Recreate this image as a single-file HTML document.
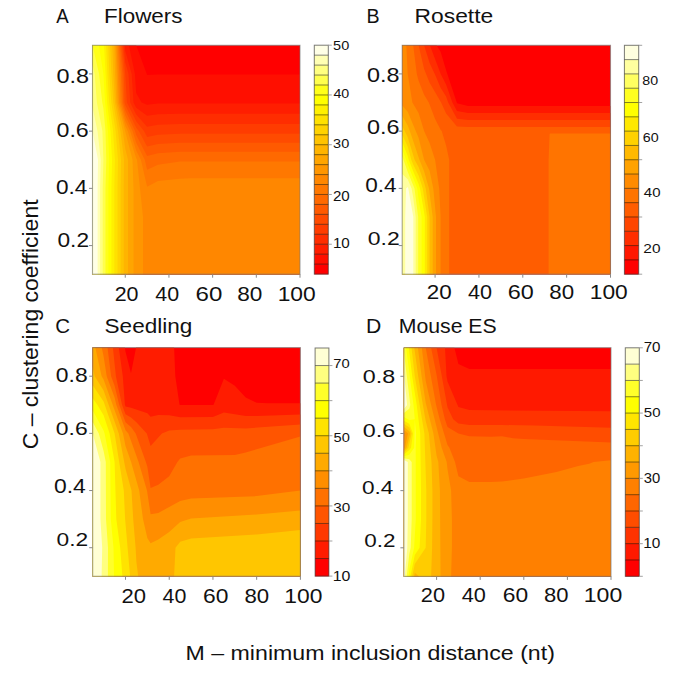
<!DOCTYPE html>
<html><head><meta charset="utf-8"><style>html,body{margin:0;padding:0;background:#fff;width:685px;height:676px;overflow:hidden;font-family:"Liberation Sans",sans-serif}svg text{font-family:"Liberation Sans",sans-serif;font-size:100px}</style></head><body>
<svg width="685" height="676" viewBox="0 0 685 676" style="position:absolute;left:0;top:0" font-family="Liberation Sans" font-size="100">
<rect x="92.5" y="45.3" width="207.50" height="228.90" fill="#ff0000"/>
<path fill="#ff0f00" d="M92.5,274.2 300.0,274.2 300.0,74.5 158.0,74.5 147.1,74.9 136.2,45.3 92.5,45.3 92.5,274.2Z"/>
<path fill="#ff1e00" d="M92.5,274.2 300.0,274.2 300.0,103.5 158.0,103.6 147.1,104.7 141.6,102.5 136.2,93.0 134.9,73.9 128.9,45.3 92.5,45.3 92.5,274.2Z"/>
<path fill="#ff2d00" d="M92.5,274.2 300.0,274.2 300.0,113.8 179.9,113.8 158.0,114.2 147.1,115.7 136.2,107.8 133.5,102.5 131.7,73.9 125.3,51.0 124.7,45.3 92.5,45.3 92.5,274.2Z"/>
<path fill="#ff3c00" d="M92.5,274.2 300.0,274.2 300.0,124.0 179.9,124.0 158.0,124.8 147.1,126.7 136.2,114.5 130.2,102.5 128.5,73.9 125.3,62.5 123.5,45.3 92.5,45.3 92.5,274.2Z"/>
<path fill="#ff4b00" d="M92.5,274.2 300.0,274.2 300.0,133.8 179.9,133.8 158.0,134.8 147.1,136.9 144.0,131.1 136.2,121.2 126.9,102.5 125.3,73.9 122.4,45.3 92.5,45.3 92.5,274.2Z"/>
<path fill="#ff5a00" d="M92.5,274.2 300.0,274.2 300.0,142.8 179.9,142.8 158.0,144.1 147.1,146.4 138.8,131.1 136.2,127.8 125.3,105.1 124.6,102.5 123.8,73.9 121.2,45.3 92.5,45.3 92.5,274.2Z"/>
<path fill="#ff6900" d="M92.5,274.2 300.0,274.2 300.0,151.7 179.9,151.7 158.0,153.3 147.1,155.9 136.2,135.0 135.0,131.1 125.3,110.3 123.2,102.5 122.4,73.9 120.1,45.3 92.5,45.3 92.5,274.2Z"/>
<path fill="#ff7800" d="M92.5,274.2 300.0,274.2 300.0,161.4 179.9,161.5 158.0,164.7 147.1,169.8 144.8,159.8 136.2,142.7 132.5,131.1 125.3,115.5 121.9,102.5 120.9,73.9 118.9,45.3 92.5,45.3 92.5,274.2Z"/>
<path fill="#ff8700" d="M92.5,274.2 300.0,274.2 300.0,178.3 190.8,178.3 179.9,178.8 158.0,181.0 147.1,186.7 140.9,159.8 136.2,150.5 130.1,131.1 125.3,120.7 120.5,102.5 119.4,73.9 117.8,45.3 92.5,45.3 92.5,274.2Z"/>
<path fill="#ff9600" d="M92.5,274.2 143.0,274.2 143.0,217.0 137.0,159.8 136.2,158.2 127.7,131.1 125.3,125.9 119.1,102.5 116.6,45.3 92.5,45.3 92.5,274.2Z"/>
<path fill="#ffa500" d="M92.5,274.2 133.5,274.2 133.5,188.4 132.5,159.8 117.8,102.5 115.5,45.3 92.5,45.3 92.5,274.2Z"/>
<path fill="#ffb400" d="M92.5,274.2 128.0,274.2 128.0,159.8 125.3,149.0 122.8,131.1 116.4,102.5 115.1,73.9 114.3,45.3 92.5,45.3 92.5,274.2Z"/>
<path fill="#ffc300" d="M92.5,274.2 123.7,274.2 123.7,188.4 124.0,159.8 120.4,131.1 115.0,102.5 113.3,73.9 112.3,45.3 92.5,45.3 92.5,274.2Z"/>
<path fill="#ffd200" d="M92.5,274.2 120.6,274.2 120.6,188.4 121.0,159.8 118.0,131.1 113.3,102.5 111.4,73.9 110.2,45.3 92.5,45.3 92.5,274.2Z"/>
<path fill="#ffe100" d="M92.5,274.2 117.5,274.2 117.5,188.4 118.0,159.8 115.6,131.1 111.3,102.5 109.4,73.9 108.2,45.3 92.5,45.3 92.5,274.2Z"/>
<path fill="#fff000" d="M92.5,274.2 114.3,274.2 114.3,188.4 114.9,159.8 113.1,131.1 109.2,102.5 107.4,73.9 106.1,45.3 92.5,45.3 92.5,274.2Z"/>
<path fill="#ffff00" d="M92.5,274.2 111.4,274.2 111.4,188.4 112.0,159.8 110.5,131.1 107.1,102.5 104.0,45.3 92.5,45.3 92.5,274.2Z"/>
<path fill="#ffff19" d="M92.5,274.2 108.4,274.2 108.4,188.4 109.2,159.8 108.0,131.1 105.1,102.5 103.4,73.9 98.9,45.3 92.5,45.3 92.5,274.2Z"/>
<path fill="#ffff4d" d="M92.5,274.2 105.5,274.2 105.5,188.4 106.3,159.8 105.5,131.1 103.4,108.2 102.3,102.5 99.1,73.9 92.5,45.3 92.5,274.2Z"/>
<path fill="#ffff80" d="M92.5,274.2 102.7,274.2 102.7,188.4 103.4,159.8 102.4,131.1 96.9,102.5 94.7,73.9 92.5,64.4 92.5,274.2Z"/>
<path fill="#ffffb3" d="M92.5,274.2 100.1,274.2 100.1,188.4 100.7,159.8 97.5,131.1 92.5,107.3 92.5,274.2Z"/>
<path fill="#ffffe6" d="M92.5,274.2 97.6,274.2 97.6,188.4 98.0,159.8 92.5,131.1 92.5,274.2Z"/>
<rect x="92.5" y="45.3" width="207.50" height="228.90" fill="none" stroke="#777" stroke-opacity="0.65" stroke-width="1.1"/>
<line x1="125.26" x2="125.26" y1="274.2" y2="277.7" stroke="#888" stroke-width="1"/>
<line x1="168.95" x2="168.95" y1="274.2" y2="277.7" stroke="#888" stroke-width="1"/>
<line x1="212.63" x2="212.63" y1="274.2" y2="277.7" stroke="#888" stroke-width="1"/>
<line x1="256.32" x2="256.32" y1="274.2" y2="277.7" stroke="#888" stroke-width="1"/>
<line x1="300.00" x2="300.00" y1="274.2" y2="277.7" stroke="#888" stroke-width="1"/>
<line x1="89.0" x2="92.5" y1="245.59" y2="245.59" stroke="#888" stroke-width="1"/>
<line x1="89.0" x2="92.5" y1="188.36" y2="188.36" stroke="#888" stroke-width="1"/>
<line x1="89.0" x2="92.5" y1="131.14" y2="131.14" stroke="#888" stroke-width="1"/>
<line x1="89.0" x2="92.5" y1="73.91" y2="73.91" stroke="#888" stroke-width="1"/>
<rect x="314.3" y="264.15" width="14.00" height="10.25" fill="#ff0000"/>
<rect x="314.3" y="254.20" width="14.00" height="10.25" fill="#ff0f00"/>
<rect x="314.3" y="244.24" width="14.00" height="10.25" fill="#ff1e00"/>
<rect x="314.3" y="234.29" width="14.00" height="10.25" fill="#ff2d00"/>
<rect x="314.3" y="224.34" width="14.00" height="10.25" fill="#ff3c00"/>
<rect x="314.3" y="214.39" width="14.00" height="10.25" fill="#ff4b00"/>
<rect x="314.3" y="204.43" width="14.00" height="10.25" fill="#ff5a00"/>
<rect x="314.3" y="194.48" width="14.00" height="10.25" fill="#ff6900"/>
<rect x="314.3" y="184.53" width="14.00" height="10.25" fill="#ff7800"/>
<rect x="314.3" y="174.58" width="14.00" height="10.25" fill="#ff8700"/>
<rect x="314.3" y="164.63" width="14.00" height="10.25" fill="#ff9600"/>
<rect x="314.3" y="154.67" width="14.00" height="10.25" fill="#ffa500"/>
<rect x="314.3" y="144.72" width="14.00" height="10.25" fill="#ffb400"/>
<rect x="314.3" y="134.77" width="14.00" height="10.25" fill="#ffc300"/>
<rect x="314.3" y="124.82" width="14.00" height="10.25" fill="#ffd200"/>
<rect x="314.3" y="114.87" width="14.00" height="10.25" fill="#ffe100"/>
<rect x="314.3" y="104.91" width="14.00" height="10.25" fill="#fff000"/>
<rect x="314.3" y="94.96" width="14.00" height="10.25" fill="#ffff00"/>
<rect x="314.3" y="85.01" width="14.00" height="10.25" fill="#ffff19"/>
<rect x="314.3" y="75.06" width="14.00" height="10.25" fill="#ffff4d"/>
<rect x="314.3" y="65.10" width="14.00" height="10.25" fill="#ffff80"/>
<rect x="314.3" y="55.15" width="14.00" height="10.25" fill="#ffffb3"/>
<rect x="314.3" y="45.20" width="14.00" height="10.25" fill="#ffffe6"/>
<line x1="314.3" x2="328.3" y1="264.15" y2="264.15" stroke="#000" stroke-opacity="0.55" stroke-width="0.9"/>
<line x1="314.3" x2="328.3" y1="254.20" y2="254.20" stroke="#000" stroke-opacity="0.55" stroke-width="0.9"/>
<line x1="314.3" x2="328.3" y1="244.24" y2="244.24" stroke="#000" stroke-opacity="0.55" stroke-width="0.9"/>
<line x1="314.3" x2="328.3" y1="234.29" y2="234.29" stroke="#000" stroke-opacity="0.55" stroke-width="0.9"/>
<line x1="314.3" x2="328.3" y1="224.34" y2="224.34" stroke="#000" stroke-opacity="0.55" stroke-width="0.9"/>
<line x1="314.3" x2="328.3" y1="214.39" y2="214.39" stroke="#000" stroke-opacity="0.55" stroke-width="0.9"/>
<line x1="314.3" x2="328.3" y1="204.43" y2="204.43" stroke="#000" stroke-opacity="0.55" stroke-width="0.9"/>
<line x1="314.3" x2="328.3" y1="194.48" y2="194.48" stroke="#000" stroke-opacity="0.55" stroke-width="0.9"/>
<line x1="314.3" x2="328.3" y1="184.53" y2="184.53" stroke="#000" stroke-opacity="0.55" stroke-width="0.9"/>
<line x1="314.3" x2="328.3" y1="174.58" y2="174.58" stroke="#000" stroke-opacity="0.55" stroke-width="0.9"/>
<line x1="314.3" x2="328.3" y1="164.63" y2="164.63" stroke="#000" stroke-opacity="0.55" stroke-width="0.9"/>
<line x1="314.3" x2="328.3" y1="154.67" y2="154.67" stroke="#000" stroke-opacity="0.55" stroke-width="0.9"/>
<line x1="314.3" x2="328.3" y1="144.72" y2="144.72" stroke="#000" stroke-opacity="0.55" stroke-width="0.9"/>
<line x1="314.3" x2="328.3" y1="134.77" y2="134.77" stroke="#000" stroke-opacity="0.55" stroke-width="0.9"/>
<line x1="314.3" x2="328.3" y1="124.82" y2="124.82" stroke="#000" stroke-opacity="0.55" stroke-width="0.9"/>
<line x1="314.3" x2="328.3" y1="114.87" y2="114.87" stroke="#000" stroke-opacity="0.55" stroke-width="0.9"/>
<line x1="314.3" x2="328.3" y1="104.91" y2="104.91" stroke="#000" stroke-opacity="0.55" stroke-width="0.9"/>
<line x1="314.3" x2="328.3" y1="94.96" y2="94.96" stroke="#000" stroke-opacity="0.55" stroke-width="0.9"/>
<line x1="314.3" x2="328.3" y1="85.01" y2="85.01" stroke="#000" stroke-opacity="0.55" stroke-width="0.9"/>
<line x1="314.3" x2="328.3" y1="75.06" y2="75.06" stroke="#000" stroke-opacity="0.55" stroke-width="0.9"/>
<line x1="314.3" x2="328.3" y1="65.10" y2="65.10" stroke="#000" stroke-opacity="0.55" stroke-width="0.9"/>
<line x1="314.3" x2="328.3" y1="55.15" y2="55.15" stroke="#000" stroke-opacity="0.55" stroke-width="0.9"/>
<rect x="314.3" y="45.2" width="14.00" height="228.90" fill="none" stroke="#333" stroke-opacity="0.65" stroke-width="1"/>
<line x1="328.3" x2="331.8" y1="45.20" y2="45.20" stroke="#999" stroke-width="0.9"/>
<line x1="328.3" x2="331.8" y1="94.96" y2="94.96" stroke="#999" stroke-width="0.9"/>
<line x1="328.3" x2="331.8" y1="144.72" y2="144.72" stroke="#999" stroke-width="0.9"/>
<line x1="328.3" x2="331.8" y1="194.48" y2="194.48" stroke="#999" stroke-width="0.9"/>
<line x1="328.3" x2="331.8" y1="244.24" y2="244.24" stroke="#999" stroke-width="0.9"/>
<rect x="402.2" y="45.3" width="208.30" height="228.90" fill="#ff0000"/>
<path fill="#ff1700" d="M402.2,274.2 610.5,274.2 610.5,106.0 468.0,106.0 457.0,103.3 446.1,70.3 440.6,51.8 436.5,45.3 402.2,45.3 402.2,274.2Z"/>
<path fill="#ff2e00" d="M402.2,274.2 610.5,274.2 610.5,113.0 468.0,113.0 457.0,111.0 452.4,102.5 446.1,84.6 440.7,73.9 429.9,45.3 402.2,45.3 402.2,274.2Z"/>
<path fill="#ff4600" d="M402.2,274.2 610.5,274.2 610.5,120.0 468.0,120.0 457.0,118.8 448.2,102.5 446.1,96.6 440.6,87.7 435.1,74.8 429.6,63.1 424.1,45.3 402.2,45.3 402.2,274.2Z"/>
<path fill="#ff5d00" d="M402.2,274.2 610.5,274.2 610.5,127.0 468.0,127.0 457.0,126.5 446.1,113.5 441.1,102.5 429.6,82.8 424.1,69.1 418.6,45.3 402.2,45.3 402.2,274.2Z"/>
<path fill="#ff7400" d="M402.2,274.2 449.2,274.2 449.2,159.8 446.1,145.4 441.7,131.1 440.6,129.7 435.1,118.9 428.8,102.5 424.1,94.7 418.6,80.8 416.8,73.9 413.2,45.3 402.2,45.3 402.2,274.2ZM548.6,274.2 610.5,274.2 610.5,133.4 550.2,133.4 549.6,134.0 548.6,159.8 548.6,274.2Z"/>
<path fill="#ff8b00" d="M402.2,274.2 440.6,274.2 440.6,217.0 439.2,188.4 435.1,159.8 429.6,142.9 424.1,131.1 418.6,113.0 412.4,102.5 407.7,73.9 406.3,45.3 402.2,45.3 402.2,274.2Z"/>
<path fill="#ffa200" d="M402.2,274.2 436.0,274.2 436.0,217.0 433.3,188.4 429.6,170.8 424.1,159.8 418.6,137.8 407.7,111.8 402.2,105.6 402.2,274.2Z"/>
<path fill="#ffb900" d="M402.2,274.2 432.7,274.2 432.7,217.0 429.0,188.4 424.1,171.2 419.4,159.8 410.9,134.0 407.7,125.6 402.2,115.8 402.2,274.2Z"/>
<path fill="#ffd100" d="M402.2,274.2 429.6,274.2 429.6,217.0 425.7,188.4 424.1,182.6 418.6,167.0 414.6,159.8 407.7,136.9 402.2,126.0 402.2,274.2Z"/>
<path fill="#ffe800" d="M402.2,274.2 427.2,274.2 427.2,217.0 422.8,188.4 418.6,175.6 413.2,164.5 411.3,159.8 407.7,146.4 402.2,134.7 402.2,274.2Z"/>
<path fill="#ffff00" d="M402.2,274.2 424.8,274.2 424.8,217.0 424.1,212.2 420.0,188.4 418.6,184.1 413.2,171.3 408.7,159.8 407.7,155.9 402.2,141.9 402.2,274.2Z"/>
<path fill="#ffff20" d="M402.2,274.2 421.6,274.2 421.6,217.0 418.6,199.4 417.3,188.4 407.7,164.3 402.2,149.0 402.2,274.2Z"/>
<path fill="#ffff60" d="M402.2,274.2 418.2,274.2 418.2,217.0 414.5,188.4 407.7,171.8 402.2,156.2 402.2,274.2Z"/>
<path fill="#ffff9f" d="M402.2,274.2 415.7,274.2 415.7,217.0 413.2,197.6 411.6,188.4 407.7,179.3 402.2,174.1 402.2,274.2Z"/>
<path fill="#ffffdf" d="M405.2,274.2 413.3,274.2 413.3,217.0 408.3,188.4 407.7,186.9 406.1,188.4 405.2,217.0 405.2,274.2Z"/>
<rect x="402.2" y="45.3" width="208.30" height="228.90" fill="none" stroke="#777" stroke-opacity="0.65" stroke-width="1.1"/>
<line x1="435.09" x2="435.09" y1="274.2" y2="277.7" stroke="#888" stroke-width="1"/>
<line x1="478.94" x2="478.94" y1="274.2" y2="277.7" stroke="#888" stroke-width="1"/>
<line x1="522.79" x2="522.79" y1="274.2" y2="277.7" stroke="#888" stroke-width="1"/>
<line x1="566.65" x2="566.65" y1="274.2" y2="277.7" stroke="#888" stroke-width="1"/>
<line x1="610.50" x2="610.50" y1="274.2" y2="277.7" stroke="#888" stroke-width="1"/>
<line x1="398.7" x2="402.2" y1="245.59" y2="245.59" stroke="#888" stroke-width="1"/>
<line x1="398.7" x2="402.2" y1="188.36" y2="188.36" stroke="#888" stroke-width="1"/>
<line x1="398.7" x2="402.2" y1="131.14" y2="131.14" stroke="#888" stroke-width="1"/>
<line x1="398.7" x2="402.2" y1="73.91" y2="73.91" stroke="#888" stroke-width="1"/>
<rect x="624.4" y="259.89" width="14.30" height="14.61" fill="#ff0000"/>
<rect x="624.4" y="245.59" width="14.30" height="14.61" fill="#ff1700"/>
<rect x="624.4" y="231.28" width="14.30" height="14.61" fill="#ff2e00"/>
<rect x="624.4" y="216.97" width="14.30" height="14.61" fill="#ff4600"/>
<rect x="624.4" y="202.67" width="14.30" height="14.61" fill="#ff5d00"/>
<rect x="624.4" y="188.36" width="14.30" height="14.61" fill="#ff7400"/>
<rect x="624.4" y="174.06" width="14.30" height="14.61" fill="#ff8b00"/>
<rect x="624.4" y="159.75" width="14.30" height="14.61" fill="#ffa200"/>
<rect x="624.4" y="145.44" width="14.30" height="14.61" fill="#ffb900"/>
<rect x="624.4" y="131.14" width="14.30" height="14.61" fill="#ffd100"/>
<rect x="624.4" y="116.83" width="14.30" height="14.61" fill="#ffe800"/>
<rect x="624.4" y="102.53" width="14.30" height="14.61" fill="#ffff00"/>
<rect x="624.4" y="88.22" width="14.30" height="14.61" fill="#ffff20"/>
<rect x="624.4" y="73.91" width="14.30" height="14.61" fill="#ffff60"/>
<rect x="624.4" y="59.61" width="14.30" height="14.61" fill="#ffff9f"/>
<rect x="624.4" y="45.30" width="14.30" height="14.61" fill="#ffffdf"/>
<line x1="624.4" x2="638.7" y1="259.89" y2="259.89" stroke="#000" stroke-opacity="0.55" stroke-width="0.9"/>
<line x1="624.4" x2="638.7" y1="245.59" y2="245.59" stroke="#000" stroke-opacity="0.55" stroke-width="0.9"/>
<line x1="624.4" x2="638.7" y1="231.28" y2="231.28" stroke="#000" stroke-opacity="0.55" stroke-width="0.9"/>
<line x1="624.4" x2="638.7" y1="216.97" y2="216.97" stroke="#000" stroke-opacity="0.55" stroke-width="0.9"/>
<line x1="624.4" x2="638.7" y1="202.67" y2="202.67" stroke="#000" stroke-opacity="0.55" stroke-width="0.9"/>
<line x1="624.4" x2="638.7" y1="188.36" y2="188.36" stroke="#000" stroke-opacity="0.55" stroke-width="0.9"/>
<line x1="624.4" x2="638.7" y1="174.06" y2="174.06" stroke="#000" stroke-opacity="0.55" stroke-width="0.9"/>
<line x1="624.4" x2="638.7" y1="159.75" y2="159.75" stroke="#000" stroke-opacity="0.55" stroke-width="0.9"/>
<line x1="624.4" x2="638.7" y1="145.44" y2="145.44" stroke="#000" stroke-opacity="0.55" stroke-width="0.9"/>
<line x1="624.4" x2="638.7" y1="131.14" y2="131.14" stroke="#000" stroke-opacity="0.55" stroke-width="0.9"/>
<line x1="624.4" x2="638.7" y1="116.83" y2="116.83" stroke="#000" stroke-opacity="0.55" stroke-width="0.9"/>
<line x1="624.4" x2="638.7" y1="102.53" y2="102.53" stroke="#000" stroke-opacity="0.55" stroke-width="0.9"/>
<line x1="624.4" x2="638.7" y1="88.22" y2="88.22" stroke="#000" stroke-opacity="0.55" stroke-width="0.9"/>
<line x1="624.4" x2="638.7" y1="73.91" y2="73.91" stroke="#000" stroke-opacity="0.55" stroke-width="0.9"/>
<line x1="624.4" x2="638.7" y1="59.61" y2="59.61" stroke="#000" stroke-opacity="0.55" stroke-width="0.9"/>
<rect x="624.4" y="45.3" width="14.30" height="228.90" fill="none" stroke="#333" stroke-opacity="0.65" stroke-width="1"/>
<line x1="638.7" x2="642.2" y1="45.30" y2="45.30" stroke="#999" stroke-width="0.9"/>
<line x1="638.7" x2="642.2" y1="102.50" y2="102.50" stroke="#999" stroke-width="0.9"/>
<line x1="638.7" x2="642.2" y1="159.70" y2="159.70" stroke="#999" stroke-width="0.9"/>
<line x1="638.7" x2="642.2" y1="217.00" y2="217.00" stroke="#999" stroke-width="0.9"/>
<line x1="638.7" x2="642.2" y1="274.20" y2="274.20" stroke="#999" stroke-width="0.9"/>
<rect x="92.7" y="347.6" width="207.70" height="228.70" fill="#ff0000"/>
<path fill="#ff1c00" d="M92.7,576.3 300.4,576.3 300.4,403.2 267.6,403.2 256.7,402.8 245.7,397.6 234.8,385.7 223.9,378.8 213.6,404.8 212.9,405.1 180.2,405.0 179.5,404.8 175.3,376.2 174.1,347.6 136.1,347.6 131.0,373.3 125.5,351.7 124.9,347.6 92.7,347.6 92.7,576.3Z"/>
<path fill="#ff3900" d="M92.7,576.3 300.4,576.3 300.4,414.4 256.7,416.0 245.7,416.0 223.9,412.4 212.9,417.1 180.2,417.3 169.2,415.3 158.3,415.0 150.6,416.7 147.4,413.2 131.0,407.7 125.5,406.4 124.9,404.8 122.8,376.2 118.8,347.6 92.7,347.6 92.7,576.3Z"/>
<path fill="#ff5500" d="M92.7,576.3 300.4,576.3 300.4,424.4 245.7,428.4 223.9,427.7 212.9,429.2 180.2,429.7 169.2,430.4 161.9,433.4 150.6,446.1 146.8,433.4 136.4,422.2 131.0,417.4 125.5,414.3 122.0,404.8 115.9,376.2 112.9,347.6 92.7,347.6 92.7,576.3Z"/>
<path fill="#ff7100" d="M92.7,576.3 300.4,576.3 300.4,436.5 245.7,452.4 234.8,454.9 191.1,455.5 180.2,458.4 177.4,461.9 169.2,476.2 158.3,484.8 150.6,487.9 147.4,466.9 145.9,461.9 135.7,433.4 131.0,427.1 125.5,422.2 119.2,404.8 114.6,385.7 111.1,376.2 107.5,347.6 92.7,347.6 92.7,576.3Z"/>
<path fill="#ff8e00" d="M92.7,576.3 300.4,576.3 300.4,490.5 256.7,496.1 191.1,498.5 180.2,501.1 158.3,512.9 150.6,514.2 147.0,490.5 138.6,461.9 128.4,433.4 125.5,430.2 116.3,404.8 114.6,397.6 106.7,376.2 103.6,356.2 101.7,347.6 92.7,347.6 92.7,576.3Z"/>
<path fill="#ffaa00" d="M92.7,576.3 300.4,576.3 300.4,510.5 256.7,514.5 191.1,518.5 180.2,522.1 169.2,532.1 158.3,539.5 150.6,543.2 147.4,538.2 143.0,519.1 139.2,490.5 131.1,461.9 125.5,446.1 123.0,433.4 103.6,379.5 101.6,376.2 95.3,347.6 92.7,347.6 92.7,576.3Z"/>
<path fill="#ffc600" d="M92.7,576.3 138.2,576.3 136.4,562.0 135.6,547.7 133.2,519.1 131.5,490.5 125.5,468.8 118.8,433.4 103.6,390.5 94.7,376.2 92.7,366.7 92.7,576.3ZM174.1,576.3 300.4,576.3 300.4,530.0 256.7,534.4 191.1,538.5 180.2,541.8 175.5,547.7 174.1,576.3Z"/>
<path fill="#ffe300" d="M92.7,576.3 130.1,576.3 125.1,519.1 123.8,490.5 114.6,433.4 103.6,401.5 92.7,385.3 92.7,576.3Z"/>
<path fill="#ffff00" d="M92.7,576.3 122.4,576.3 120.2,547.7 116.3,519.1 114.6,461.9 109.6,433.4 103.6,415.3 97.3,404.8 92.7,398.3 92.7,576.3Z"/>
<path fill="#ffff2a" d="M92.7,576.3 114.0,576.3 113.5,547.7 110.8,519.1 110.2,461.9 104.6,433.4 103.6,430.4 92.7,410.5 92.7,576.3Z"/>
<path fill="#ffff80" d="M92.7,576.3 107.9,576.3 108.0,547.7 106.0,519.1 105.8,461.9 103.6,451.0 98.8,433.4 92.7,421.9 92.7,576.3Z"/>
<path fill="#ffffd4" d="M92.7,576.3 101.6,576.3 102.2,547.7 100.4,519.1 100.4,462.0 92.7,433.4 92.7,576.3Z"/>
<rect x="92.7" y="347.6" width="207.70" height="228.70" fill="none" stroke="#777" stroke-opacity="0.65" stroke-width="1.1"/>
<line x1="125.49" x2="125.49" y1="576.3" y2="579.8" stroke="#888" stroke-width="1"/>
<line x1="169.22" x2="169.22" y1="576.3" y2="579.8" stroke="#888" stroke-width="1"/>
<line x1="212.95" x2="212.95" y1="576.3" y2="579.8" stroke="#888" stroke-width="1"/>
<line x1="256.67" x2="256.67" y1="576.3" y2="579.8" stroke="#888" stroke-width="1"/>
<line x1="300.40" x2="300.40" y1="576.3" y2="579.8" stroke="#888" stroke-width="1"/>
<line x1="89.2" x2="92.7" y1="547.71" y2="547.71" stroke="#888" stroke-width="1"/>
<line x1="89.2" x2="92.7" y1="490.54" y2="490.54" stroke="#888" stroke-width="1"/>
<line x1="89.2" x2="92.7" y1="433.36" y2="433.36" stroke="#888" stroke-width="1"/>
<line x1="89.2" x2="92.7" y1="376.19" y2="376.19" stroke="#888" stroke-width="1"/>
<rect x="315.1" y="558.55" width="13.80" height="17.85" fill="#ff0000"/>
<rect x="315.1" y="541.01" width="13.80" height="17.85" fill="#ff1c00"/>
<rect x="315.1" y="523.46" width="13.80" height="17.85" fill="#ff3900"/>
<rect x="315.1" y="505.92" width="13.80" height="17.85" fill="#ff5500"/>
<rect x="315.1" y="488.37" width="13.80" height="17.85" fill="#ff7100"/>
<rect x="315.1" y="470.82" width="13.80" height="17.85" fill="#ff8e00"/>
<rect x="315.1" y="453.28" width="13.80" height="17.85" fill="#ffaa00"/>
<rect x="315.1" y="435.73" width="13.80" height="17.85" fill="#ffc600"/>
<rect x="315.1" y="418.18" width="13.80" height="17.85" fill="#ffe300"/>
<rect x="315.1" y="400.64" width="13.80" height="17.85" fill="#ffff00"/>
<rect x="315.1" y="383.09" width="13.80" height="17.85" fill="#ffff2a"/>
<rect x="315.1" y="365.55" width="13.80" height="17.85" fill="#ffff80"/>
<rect x="315.1" y="348.00" width="13.80" height="17.85" fill="#ffffd4"/>
<line x1="315.1" x2="328.9" y1="558.55" y2="558.55" stroke="#000" stroke-opacity="0.55" stroke-width="0.9"/>
<line x1="315.1" x2="328.9" y1="541.01" y2="541.01" stroke="#000" stroke-opacity="0.55" stroke-width="0.9"/>
<line x1="315.1" x2="328.9" y1="523.46" y2="523.46" stroke="#000" stroke-opacity="0.55" stroke-width="0.9"/>
<line x1="315.1" x2="328.9" y1="505.92" y2="505.92" stroke="#000" stroke-opacity="0.55" stroke-width="0.9"/>
<line x1="315.1" x2="328.9" y1="488.37" y2="488.37" stroke="#000" stroke-opacity="0.55" stroke-width="0.9"/>
<line x1="315.1" x2="328.9" y1="470.82" y2="470.82" stroke="#000" stroke-opacity="0.55" stroke-width="0.9"/>
<line x1="315.1" x2="328.9" y1="453.28" y2="453.28" stroke="#000" stroke-opacity="0.55" stroke-width="0.9"/>
<line x1="315.1" x2="328.9" y1="435.73" y2="435.73" stroke="#000" stroke-opacity="0.55" stroke-width="0.9"/>
<line x1="315.1" x2="328.9" y1="418.18" y2="418.18" stroke="#000" stroke-opacity="0.55" stroke-width="0.9"/>
<line x1="315.1" x2="328.9" y1="400.64" y2="400.64" stroke="#000" stroke-opacity="0.55" stroke-width="0.9"/>
<line x1="315.1" x2="328.9" y1="383.09" y2="383.09" stroke="#000" stroke-opacity="0.55" stroke-width="0.9"/>
<line x1="315.1" x2="328.9" y1="365.55" y2="365.55" stroke="#000" stroke-opacity="0.55" stroke-width="0.9"/>
<rect x="315.1" y="348.0" width="13.80" height="228.10" fill="none" stroke="#333" stroke-opacity="0.65" stroke-width="1"/>
<line x1="328.9" x2="332.4" y1="365.55" y2="365.55" stroke="#999" stroke-width="0.9"/>
<line x1="328.9" x2="332.4" y1="400.64" y2="400.64" stroke="#999" stroke-width="0.9"/>
<line x1="328.9" x2="332.4" y1="435.73" y2="435.73" stroke="#999" stroke-width="0.9"/>
<line x1="328.9" x2="332.4" y1="470.82" y2="470.82" stroke="#999" stroke-width="0.9"/>
<line x1="328.9" x2="332.4" y1="505.92" y2="505.92" stroke="#999" stroke-width="0.9"/>
<line x1="328.9" x2="332.4" y1="541.01" y2="541.01" stroke="#999" stroke-width="0.9"/>
<line x1="328.9" x2="332.4" y1="576.10" y2="576.10" stroke="#999" stroke-width="0.9"/>
<rect x="403.9" y="347.7" width="207.10" height="228.70" fill="#ff0000"/>
<path fill="#ff1900" d="M403.9,576.4 611.0,576.4 611.0,369.1 469.3,369.1 458.4,364.0 454.4,347.7 403.9,347.7 403.9,576.4Z"/>
<path fill="#ff3300" d="M403.9,576.4 611.0,576.4 611.0,411.2 469.3,410.1 458.4,407.1 447.5,381.5 446.5,376.3 445.0,347.7 403.9,347.7 403.9,576.4Z"/>
<path fill="#ff4d00" d="M403.9,576.4 611.0,576.4 611.0,427.7 534.7,425.6 502.0,425.0 469.3,424.9 458.4,423.6 453.2,419.2 447.5,407.3 436.6,347.7 403.9,347.7 403.9,576.4Z"/>
<path fill="#ff6600" d="M403.9,576.4 611.0,576.4 611.0,442.4 523.8,439.1 512.9,438.2 502.0,436.3 491.1,436.8 469.3,436.3 458.4,433.5 447.5,427.1 444.9,419.2 441.5,404.9 436.6,374.9 431.1,347.7 403.9,347.7 403.9,576.4Z"/>
<path fill="#ff8000" d="M403.9,576.4 611.0,576.4 611.0,460.3 593.6,462.0 589.2,463.8 578.3,466.1 556.5,472.0 523.8,478.4 502.0,481.6 491.1,482.1 469.3,482.1 458.4,476.3 455.0,462.0 449.4,447.8 447.5,444.9 439.7,419.2 436.1,404.9 425.7,347.7 403.9,347.7 403.9,576.4Z"/>
<path fill="#ff9900" d="M403.9,576.4 451.1,576.4 451.9,547.8 451.9,519.2 451.1,490.6 447.5,469.2 446.7,462.0 441.7,447.8 431.1,404.9 425.7,380.7 421.8,347.7 403.9,347.7 403.9,432.9 404.6,433.5 403.9,437.5 403.9,576.4Z"/>
<path fill="#ffb200" d="M403.9,576.4 440.6,576.4 439.9,490.6 438.3,462.0 436.6,455.7 433.4,433.5 425.7,402.7 421.6,376.3 417.9,347.7 403.9,347.7 403.9,429.8 408.0,433.5 404.8,447.8 403.9,448.7 403.9,576.4Z"/>
<path fill="#ffcc00" d="M403.9,576.4 414.1,576.4 414.8,572.8 419.2,576.4 431.1,576.4 432.1,547.8 432.4,519.2 432.4,490.6 431.5,462.0 428.9,433.5 425.7,421.0 422.9,404.9 418.2,376.3 414.3,347.7 403.9,347.7 403.9,426.8 409.3,431.2 410.2,433.5 406.6,447.8 403.9,450.6 403.9,576.4Z"/>
<path fill="#ffe500" d="M403.9,576.4 412.2,576.4 414.8,563.9 425.7,547.8 426.3,519.2 426.3,490.6 424.4,433.5 414.8,376.3 411.5,347.7 403.9,347.7 403.9,423.7 409.4,427.4 411.6,433.5 408.4,447.8 403.9,452.5 403.9,576.4Z"/>
<path fill="#ffff00" d="M403.9,576.4 410.4,576.4 414.8,555.0 419.6,547.8 421.0,519.2 421.0,490.6 420.2,433.5 416.7,404.9 412.2,376.3 408.8,347.7 403.9,347.7 403.9,420.7 409.3,423.7 413.0,433.5 411.0,447.8 409.3,450.1 403.9,454.4 403.9,576.4Z"/>
<path fill="#ffff2a" d="M403.9,576.4 408.5,576.4 409.4,569.4 414.1,547.8 415.8,519.2 415.7,447.8 416.1,433.5 414.8,419.2 414.2,447.8 409.4,454.7 403.9,456.3 403.9,576.4ZM407.8,419.2 409.3,419.9 414.8,419.2 413.5,404.9 406.1,347.7 403.9,347.7 403.9,417.1 407.8,419.2Z"/>
<path fill="#ffff80" d="M403.9,576.4 406.7,576.4 409.3,554.0 410.7,547.8 411.7,519.2 411.7,462.0 409.3,459.3 403.9,458.2 403.9,576.4ZM403.9,404.9 403.9,413.0 409.3,408.8 410.3,404.9 403.9,351.8 403.9,404.9Z"/>
<path fill="#ffffd4" d="M403.9,576.4 404.8,576.4 407.3,547.8 407.8,519.2 407.8,462.0 403.9,460.1 403.9,576.4ZM403.9,404.9 403.9,409.0 407.1,404.9 403.9,372.2 403.9,404.9Z"/>
<rect x="403.9" y="347.7" width="207.10" height="228.70" fill="none" stroke="#777" stroke-opacity="0.65" stroke-width="1.1"/>
<line x1="436.60" x2="436.60" y1="576.4" y2="579.9" stroke="#888" stroke-width="1"/>
<line x1="480.20" x2="480.20" y1="576.4" y2="579.9" stroke="#888" stroke-width="1"/>
<line x1="523.80" x2="523.80" y1="576.4" y2="579.9" stroke="#888" stroke-width="1"/>
<line x1="567.40" x2="567.40" y1="576.4" y2="579.9" stroke="#888" stroke-width="1"/>
<line x1="611.00" x2="611.00" y1="576.4" y2="579.9" stroke="#888" stroke-width="1"/>
<line x1="400.4" x2="403.9" y1="547.81" y2="547.81" stroke="#888" stroke-width="1"/>
<line x1="400.4" x2="403.9" y1="490.64" y2="490.64" stroke="#888" stroke-width="1"/>
<line x1="400.4" x2="403.9" y1="433.46" y2="433.46" stroke="#888" stroke-width="1"/>
<line x1="400.4" x2="403.9" y1="376.29" y2="376.29" stroke="#888" stroke-width="1"/>
<rect x="625.3" y="559.98" width="14.00" height="16.62" fill="#ff0000"/>
<rect x="625.3" y="543.66" width="14.00" height="16.62" fill="#ff1900"/>
<rect x="625.3" y="527.34" width="14.00" height="16.62" fill="#ff3300"/>
<rect x="625.3" y="511.01" width="14.00" height="16.62" fill="#ff4d00"/>
<rect x="625.3" y="494.69" width="14.00" height="16.62" fill="#ff6600"/>
<rect x="625.3" y="478.37" width="14.00" height="16.62" fill="#ff8000"/>
<rect x="625.3" y="462.05" width="14.00" height="16.62" fill="#ff9900"/>
<rect x="625.3" y="445.73" width="14.00" height="16.62" fill="#ffb200"/>
<rect x="625.3" y="429.41" width="14.00" height="16.62" fill="#ffcc00"/>
<rect x="625.3" y="413.09" width="14.00" height="16.62" fill="#ffe500"/>
<rect x="625.3" y="396.76" width="14.00" height="16.62" fill="#ffff00"/>
<rect x="625.3" y="380.44" width="14.00" height="16.62" fill="#ffff2a"/>
<rect x="625.3" y="364.12" width="14.00" height="16.62" fill="#ffff80"/>
<rect x="625.3" y="347.80" width="14.00" height="16.62" fill="#ffffd4"/>
<line x1="625.3" x2="639.3" y1="559.98" y2="559.98" stroke="#000" stroke-opacity="0.55" stroke-width="0.9"/>
<line x1="625.3" x2="639.3" y1="543.66" y2="543.66" stroke="#000" stroke-opacity="0.55" stroke-width="0.9"/>
<line x1="625.3" x2="639.3" y1="527.34" y2="527.34" stroke="#000" stroke-opacity="0.55" stroke-width="0.9"/>
<line x1="625.3" x2="639.3" y1="511.01" y2="511.01" stroke="#000" stroke-opacity="0.55" stroke-width="0.9"/>
<line x1="625.3" x2="639.3" y1="494.69" y2="494.69" stroke="#000" stroke-opacity="0.55" stroke-width="0.9"/>
<line x1="625.3" x2="639.3" y1="478.37" y2="478.37" stroke="#000" stroke-opacity="0.55" stroke-width="0.9"/>
<line x1="625.3" x2="639.3" y1="462.05" y2="462.05" stroke="#000" stroke-opacity="0.55" stroke-width="0.9"/>
<line x1="625.3" x2="639.3" y1="445.73" y2="445.73" stroke="#000" stroke-opacity="0.55" stroke-width="0.9"/>
<line x1="625.3" x2="639.3" y1="429.41" y2="429.41" stroke="#000" stroke-opacity="0.55" stroke-width="0.9"/>
<line x1="625.3" x2="639.3" y1="413.09" y2="413.09" stroke="#000" stroke-opacity="0.55" stroke-width="0.9"/>
<line x1="625.3" x2="639.3" y1="396.76" y2="396.76" stroke="#000" stroke-opacity="0.55" stroke-width="0.9"/>
<line x1="625.3" x2="639.3" y1="380.44" y2="380.44" stroke="#000" stroke-opacity="0.55" stroke-width="0.9"/>
<line x1="625.3" x2="639.3" y1="364.12" y2="364.12" stroke="#000" stroke-opacity="0.55" stroke-width="0.9"/>
<rect x="625.3" y="347.8" width="14.00" height="228.50" fill="none" stroke="#333" stroke-opacity="0.65" stroke-width="1"/>
<line x1="639.3" x2="642.8" y1="347.80" y2="347.80" stroke="#999" stroke-width="0.9"/>
<line x1="639.3" x2="642.8" y1="380.44" y2="380.44" stroke="#999" stroke-width="0.9"/>
<line x1="639.3" x2="642.8" y1="413.09" y2="413.09" stroke="#999" stroke-width="0.9"/>
<line x1="639.3" x2="642.8" y1="445.73" y2="445.73" stroke="#999" stroke-width="0.9"/>
<line x1="639.3" x2="642.8" y1="478.37" y2="478.37" stroke="#999" stroke-width="0.9"/>
<line x1="639.3" x2="642.8" y1="511.01" y2="511.01" stroke="#999" stroke-width="0.9"/>
<line x1="639.3" x2="642.8" y1="543.66" y2="543.66" stroke="#999" stroke-width="0.9"/>
<line x1="639.3" x2="642.8" y1="576.30" y2="576.30" stroke="#999" stroke-width="0.9"/>
<text transform="matrix(0.1864 0 0 0.1971 56.30 23.00)" fill="#111">A</text>
<text transform="matrix(0.2243 0 0 0.1971 104.01 23.00)" fill="#111">Flowers</text>
<text transform="matrix(0.1963 0 0 0.1971 366.43 23.00)" fill="#111">B</text>
<text transform="matrix(0.2283 0 0 0.1971 414.57 23.00)" fill="#111">Rosette</text>
<text transform="matrix(0.2048 0 0 0.2000 55.28 333.30)" fill="#111">C</text>
<text transform="matrix(0.2257 0 0 0.2000 104.57 333.30)" fill="#111">Seedling</text>
<text transform="matrix(0.2117 0 0 0.2000 366.01 333.40)" fill="#111">D</text>
<text transform="matrix(0.2125 0 0 0.2000 398.70 333.40)" fill="#111">Mouse ES</text>
<text transform="matrix(0.2346 0 0 0.1958 56.46 83.20)" fill="#111">0.8</text>
<text transform="matrix(0.2323 0 0 0.1958 56.47 136.70)" fill="#111">0.6</text>
<text transform="matrix(0.2258 0 0 0.1972 55.90 193.90)" fill="#111">0.4</text>
<text transform="matrix(0.2269 0 0 0.1986 57.49 247.40)" fill="#111">0.2</text>
<text transform="matrix(0.2338 0 0 0.1944 366.96 81.51)" fill="#111">0.8</text>
<text transform="matrix(0.2338 0 0 0.1944 366.96 134.21)" fill="#111">0.6</text>
<text transform="matrix(0.2258 0 0 0.1944 365.20 192.11)" fill="#111">0.4</text>
<text transform="matrix(0.2300 0 0 0.1901 367.78 244.81)" fill="#111">0.2</text>
<text transform="matrix(0.2292 0 0 0.1944 55.78 382.31)" fill="#111">0.8</text>
<text transform="matrix(0.2292 0 0 0.1859 55.78 435.41)" fill="#111">0.6</text>
<text transform="matrix(0.2288 0 0 0.1944 53.98 493.31)" fill="#111">0.4</text>
<text transform="matrix(0.2277 0 0 0.1915 56.59 546.01)" fill="#111">0.2</text>
<text transform="matrix(0.2331 0 0 0.1901 362.87 383.01)" fill="#111">0.8</text>
<text transform="matrix(0.2331 0 0 0.1859 362.87 436.61)" fill="#111">0.6</text>
<text transform="matrix(0.2265 0 0 0.1915 361.89 493.91)" fill="#111">0.4</text>
<text transform="matrix(0.2246 0 0 0.1915 364.30 546.61)" fill="#111">0.2</text>
<text transform="matrix(0.2146 0 0 0.1958 114.63 300.60)" fill="#111">20</text>
<text transform="matrix(0.2142 0 0 0.1958 155.27 300.60)" fill="#111">40</text>
<text transform="matrix(0.2408 0 0 0.1958 195.50 300.60)" fill="#111">60</text>
<text transform="matrix(0.2260 0 0 0.1958 237.30 300.60)" fill="#111">80</text>
<text transform="matrix(0.2284 0 0 0.1958 277.67 300.60)" fill="#111">100</text>
<text transform="matrix(0.2243 0 0 0.1930 426.68 299.41)" fill="#111">20</text>
<text transform="matrix(0.2160 0 0 0.1930 467.97 299.41)" fill="#111">40</text>
<text transform="matrix(0.2340 0 0 0.1930 507.63 299.41)" fill="#111">60</text>
<text transform="matrix(0.2231 0 0 0.1930 549.31 299.41)" fill="#111">80</text>
<text transform="matrix(0.2277 0 0 0.1930 589.78 299.41)" fill="#111">100</text>
<text transform="matrix(0.2204 0 0 0.1944 121.50 602.71)" fill="#111">20</text>
<text transform="matrix(0.2142 0 0 0.1944 162.57 602.71)" fill="#111">40</text>
<text transform="matrix(0.2282 0 0 0.1944 202.96 602.71)" fill="#111">60</text>
<text transform="matrix(0.2221 0 0 0.1944 244.51 602.71)" fill="#111">80</text>
<text transform="matrix(0.2284 0 0 0.1944 284.37 602.71)" fill="#111">100</text>
<text transform="matrix(0.2175 0 0 0.2000 420.81 602.40)" fill="#111">20</text>
<text transform="matrix(0.2170 0 0 0.2000 461.77 602.40)" fill="#111">40</text>
<text transform="matrix(0.2282 0 0 0.2000 502.76 602.40)" fill="#111">60</text>
<text transform="matrix(0.2202 0 0 0.2000 543.92 602.40)" fill="#111">80</text>
<text transform="matrix(0.2310 0 0 0.2000 583.75 602.40)" fill="#111">100</text>
<text transform="matrix(0.1452 0 0 0.1352 333.12 49.76)" fill="#111">50</text>
<text transform="matrix(0.1425 0 0 0.1338 333.42 98.37)" fill="#111">40</text>
<text transform="matrix(0.1452 0 0 0.1338 333.12 147.67)" fill="#111">30</text>
<text transform="matrix(0.1515 0 0 0.1408 332.94 200.66)" fill="#111">20</text>
<text transform="matrix(0.1520 0 0 0.1380 332.88 248.16)" fill="#111">10</text>
<text transform="matrix(0.1423 0 0 0.1310 642.33 84.77)" fill="#111">80</text>
<text transform="matrix(0.1427 0 0 0.1310 642.79 142.37)" fill="#111">60</text>
<text transform="matrix(0.1500 0 0 0.1324 643.80 197.27)" fill="#111">40</text>
<text transform="matrix(0.1544 0 0 0.1310 643.33 252.97)" fill="#111">20</text>
<text transform="matrix(0.1476 0 0 0.1324 333.36 367.77)" fill="#111">70</text>
<text transform="matrix(0.1462 0 0 0.1352 333.52 441.96)" fill="#111">50</text>
<text transform="matrix(0.1529 0 0 0.1352 333.29 512.36)" fill="#111">30</text>
<text transform="matrix(0.1590 0 0 0.1380 332.63 580.66)" fill="#111">10</text>
<text transform="matrix(0.1515 0 0 0.1380 643.64 351.56)" fill="#111">70</text>
<text transform="matrix(0.1500 0 0 0.1310 643.80 417.17)" fill="#111">50</text>
<text transform="matrix(0.1481 0 0 0.1380 643.81 482.56)" fill="#111">30</text>
<text transform="matrix(0.1540 0 0 0.1394 643.17 547.96)" fill="#111">10</text>
<text transform="matrix(0.2316 0 0 0.2072 185.55 660.20)" fill="#111">M – minimum inclusion distance (nt)</text>
<text transform="matrix(0 -0.2299 0.2127 0 38.19 449.25)" fill="#111">C – clustering coefficient</text>
</svg>
</body></html>
